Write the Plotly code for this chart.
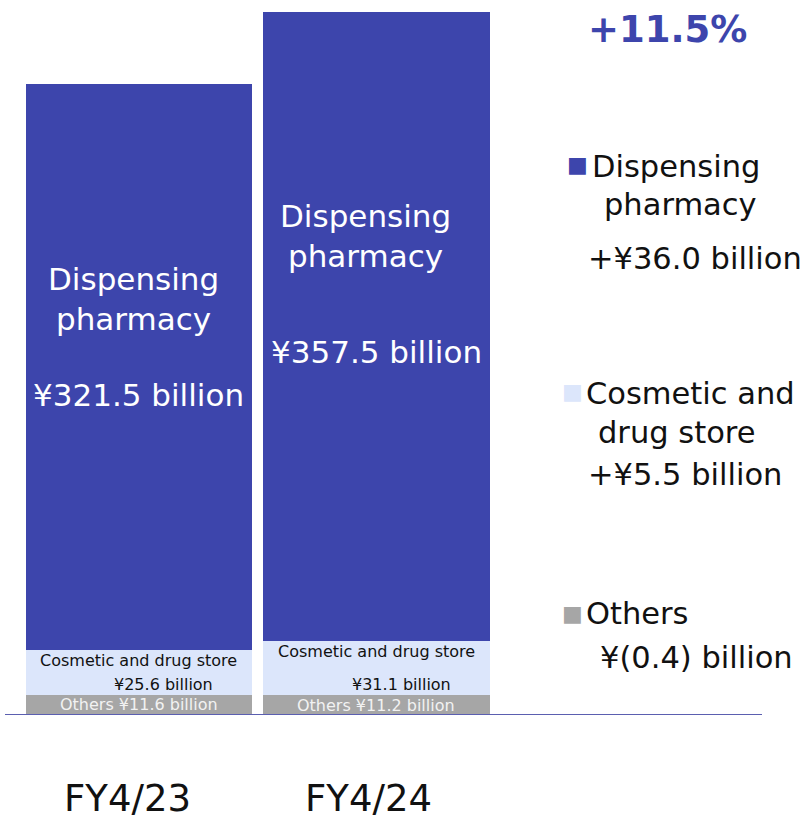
import plotly.graph_objects as go

# Net sales by segment (¥ billion)
years = ["FY4/23", "FY4/24"]
others = [11.6, 11.2]
cosmetic = [25.6, 31.1]
dispensing = [321.5, 357.5]

growth_label = "+11.5%"
change_dispensing = "+¥36.0 billion"
change_cosmetic = "+¥5.5 billion"
change_others = "¥(0.4) billion"

C_DISP = "#3d45ac"
C_COSM = "#dce6fb"
C_OTH = "#a6a6a6"
FONT = "DejaVu Sans"

x = [0, 1]
totals = [o + c + d for o, c, d in zip(others, cosmetic, dispensing)]

fig = go.Figure()
for vals, col in [(others, C_OTH), (cosmetic, C_COSM), (dispensing, C_DISP)]:
    fig.add_trace(go.Bar(x=x, y=vals, marker=dict(color=col, line=dict(width=0)),
                         width=0.952, showlegend=False, hoverinfo="skip"))

# per-bar label nudges (pixels)
name_shift = [0, 15]
value_shift = [0, 6]
year_shift = [-11, -8]

ann = []
for i in x:
    o, c, d = others[i], cosmetic[i], dispensing[i]
    base_d = o + c
    # segment labels inside the bars
    ann.append(dict(x=i, y=base_d + d * 0.62, yshift=name_shift[i], text="Dispensing<br>pharmacy",
                    font=dict(size=31, color="white", family=FONT),
                    showarrow=False, yanchor="middle", xshift=-5 if i == 0 else -11))
    ann.append(dict(x=i, y=base_d + d * 0.45, yshift=value_shift[i], text=f"¥{d:.1f} billion",
                    font=dict(size=31, color="white", family=FONT),
                    showarrow=False, yanchor="middle"))
    ann.append(dict(x=i, y=base_d, text="Cosmetic and drug store",
                    font=dict(size=16, color="#111111", family=FONT),
                    showarrow=False, yanchor="top", borderpad=0))
    ann.append(dict(x=i, y=o, text=f"¥{c:.1f} billion",
                    font=dict(size=16, color="#111111", family=FONT),
                    showarrow=False, yanchor="bottom", xshift=25, borderpad=0))
    ann.append(dict(x=i, y=o * 0.5, text=f"Others ¥{o:.1f} billion",
                    font=dict(size=16, color="#f2f2f2", family=FONT),
                    showarrow=False, yanchor="middle", borderpad=0))
    # category labels below the baseline
    ann.append(dict(x=i, y=0, yshift=-83, xshift=year_shift[i], text=years[i],
                    font=dict(size=37, color="#111111", family=FONT),
                    showarrow=False, yanchor="middle", borderpad=0))

def right(xp, yp, text, size=30.5, color="#111111", bold=False):
    t = f"<b>{text}</b>" if bold else text
    ann.append(dict(xref="paper", yref="paper", x=xp, y=yp, text=t, showarrow=False,
                    xanchor="left", yanchor="middle",
                    font=dict(size=size, color=color, family=FONT)))

# pixel helpers for the right-hand panel (page is 810 x 822, plot area 5..762 x 12..715)
def px(xpix):
    return (xpix - 5) / 757
def py(ypix):
    return (715 - ypix) / 703

right(px(586), py(30), growth_label, size=37, color="#3d45ac", bold=True)

right(px(565), py(165), "■", size=22, color=C_DISP)
right(px(590), py(166), "Dispensing")
right(px(602), py(204), "pharmacy")
right(px(586), py(258), change_dispensing)

right(px(560), py(391), "■", size=22, color=C_COSM)
right(px(584), py(393), "Cosmetic and")
right(px(596), py(432), "drug store")
right(px(586), py(474), change_cosmetic)

right(px(560), py(613), "■", size=22, color=C_OTH)
right(px(584), py(613), "Others")
right(px(598), py(657), change_others)

fig.update_layout(
    width=810, height=822,
    margin=dict(l=5, r=48, t=12, b=107),
    barmode="stack", bargap=0,
    plot_bgcolor="white", paper_bgcolor="white",
    xaxis=dict(range=[-0.564, 2.623], visible=False, fixedrange=True),
    yaxis=dict(range=[0, max(totals)], visible=False, fixedrange=True),
    annotations=ann,
    shapes=[dict(type="line", xref="paper", yref="y", x0=0, x1=1, y0=0, y1=0,
                 line=dict(color="#5b5fb0", width=2))],
    font=dict(family=FONT),
)

fig.write_html("out.html")
